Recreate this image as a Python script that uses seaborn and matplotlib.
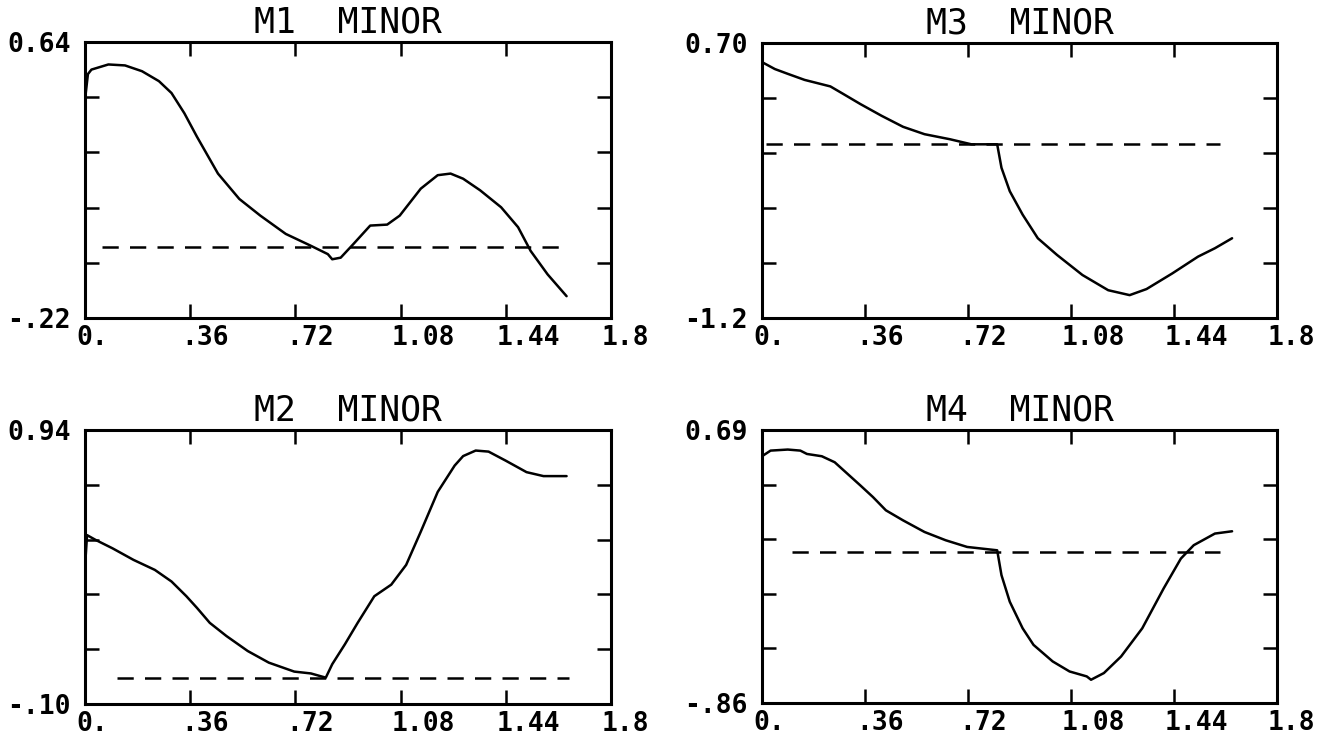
import numpy as np
import pandas as pd
import matplotlib
matplotlib.use("Agg")
from matplotlib import pyplot as plt
from matplotlib import transforms
import seaborn as sns

# shared x axis
x_ticks = [0.0, 0.36, 0.72, 1.08, 1.44, 1.8]
x_tick_labels = ["0.", ".36", ".72", "1.08", "1.44", "1.8"]

# M1 minor
m1_x = [0.0, 0.01, 0.022, 0.08, 0.137, 0.195, 0.253, 0.296, 0.34, 0.383, 0.455, 0.528,
        0.6, 0.687, 0.773, 0.831, 0.846, 0.875, 0.918, 0.976, 1.034, 1.077, 1.149, 1.207,
        1.251, 1.294, 1.352, 1.424, 1.482, 1.525, 1.583, 1.648]
m1_y = [0.46, 0.54, 0.554, 0.57, 0.567, 0.549, 0.518, 0.481, 0.418, 0.345, 0.23, 0.151,
        0.099, 0.042, 0.005, -0.021, -0.037, -0.032, 0.01, 0.068, 0.071, 0.099, 0.183, 0.225,
        0.23, 0.214, 0.178, 0.125, 0.063, -0.011, -0.084, -0.152]

# M3 minor
m3_x = [0.0, 0.045, 0.09, 0.149, 0.239, 0.284, 0.344, 0.418, 0.493, 0.568, 0.657, 0.732,
        0.822, 0.837, 0.866, 0.911, 0.964, 1.031, 1.12, 1.21, 1.285, 1.344, 1.434, 1.524,
        1.583, 1.643]
m3_y = [0.568, 0.52, 0.487, 0.445, 0.4, 0.348, 0.278, 0.197, 0.121, 0.07, 0.035, 0.0,
        0.0, -0.162, -0.324, -0.486, -0.649, -0.764, -0.903, -1.008, -1.042, -1.0, -0.892,
        -0.776, -0.718, -0.649]

# M2 minor
m2_x = [0.0, 0.007, 0.036, 0.094, 0.166, 0.239, 0.296, 0.347, 0.383, 0.427, 0.484, 0.557,
        0.629, 0.716, 0.773, 0.824, 0.846, 0.889, 0.933, 0.99, 1.048, 1.099, 1.149, 1.207,
        1.265, 1.294, 1.337, 1.381, 1.439, 1.511, 1.569, 1.648]
m2_y = [0.42, 0.541, 0.523, 0.491, 0.447, 0.409, 0.365, 0.309, 0.265, 0.208, 0.158, 0.101,
        0.057, 0.023, 0.016, 0.0, 0.051, 0.126, 0.208, 0.309, 0.353, 0.428, 0.554, 0.705,
        0.805, 0.841, 0.862, 0.858, 0.824, 0.78, 0.765, 0.765]

# M4 minor
m4_x = [0.0, 0.03, 0.09, 0.134, 0.157, 0.209, 0.254, 0.299, 0.344, 0.388, 0.433, 0.493,
        0.568, 0.642, 0.717, 0.822, 0.837, 0.866, 0.911, 0.949, 1.016, 1.075, 1.135, 1.15,
        1.195, 1.255, 1.329, 1.404, 1.464, 1.509, 1.583, 1.643]
m4_y = [0.541, 0.573, 0.579, 0.573, 0.554, 0.541, 0.507, 0.441, 0.375, 0.309, 0.234, 0.177,
        0.111, 0.064, 0.026, 0.007, -0.134, -0.285, -0.436, -0.53, -0.624, -0.681, -0.709,
        -0.728, -0.69, -0.596, -0.436, -0.209, -0.04, 0.036, 0.102, 0.115]

titles = ["M1  MINOR", "M3  MINOR", "M2  MINOR", "M4  MINOR"]
y_limits = [(-0.22, 0.64), (-1.2, 0.70), (-0.10, 0.94), (-0.86, 0.69)]
y_limit_labels = [("-.22", "0.64"), ("-1.2", "0.70"), ("-.10", "0.94"), ("-.86", "0.69")]
zero_level = 0.0
zero_spans = [(0.058, 1.655), (0.015, 1.60), (0.108, 1.655), (0.105, 1.60)]

curves = [(m1_x, m1_y), (m3_x, m3_y), (m2_x, m2_y), (m4_x, m4_y)]

sns.set_style("ticks")
# plotter lettering is fixed-width
plt.rcParams["font.family"] = ["DejaVu Sans Mono"]

fig = plt.figure(figsize=(13.29, 7.47), dpi=100)
W, H = 1329, 747
# panel boxes in pixels: left, top, right, bottom
boxes = [(85, 42, 611, 318), (762, 43, 1277, 318), (85, 430, 611, 704), (762, 430, 1277, 703)]

for i, (cx, cy) in enumerate(curves):
    l, t, r, b = boxes[i]
    ax = fig.add_axes([l / W, 1 - b / H, (r - l) / W, (b - t) / H])
    df = pd.DataFrame({"x": cx, "y": cy})
    sns.lineplot(data=df, x="x", y="y", ax=ax, color="black", linewidth=1.8,
                 sort=False, estimator=None)
    z0, z1 = zero_spans[i]
    zdf = pd.DataFrame({"x": [z0, z1], "y": [zero_level, zero_level]})
    sns.lineplot(data=zdf, x="x", y="y", ax=ax, color="black", linewidth=1.8,
                 linestyle=(0, (6.5, 4.5)), sort=False, estimator=None)

    lo, hi = y_limits[i]
    ax.set_xlim(0, 1.8)
    ax.set_ylim(lo, hi)
    ax.set_xlabel("")
    ax.set_ylabel("")
    ax.set_title(titles[i], fontsize=25, pad=7, color="black")

    ax.set_xticks(x_ticks)
    ax.set_xticklabels(x_tick_labels)
    ax.set_yticks(np.linspace(lo, hi, 6))
    lo_lbl, hi_lbl = y_limit_labels[i]
    ax.set_yticklabels([lo_lbl, "", "", "", "", hi_lbl])

    ax.tick_params(direction="in", length=10, width=1.8, top=True, right=True,
                   labelsize=19, color="black", labelcolor="black")
    ax.tick_params(axis="x", pad=5)
    ax.tick_params(axis="y", pad=10)
    for lbl in ax.get_xticklabels() + ax.get_yticklabels():
        lbl.set_fontweight("bold")
    shift = transforms.ScaledTranslation(-0.09, 0, fig.dpi_scale_trans)
    for lbl in ax.get_xticklabels():
        lbl.set_horizontalalignment("left")
        lbl.set_transform(lbl.get_transform() + shift)
    for sp in ax.spines.values():
        sp.set_linewidth(2.2)
        sp.set_color("black")

fig.savefig("out.png", dpi=100, facecolor="white")
